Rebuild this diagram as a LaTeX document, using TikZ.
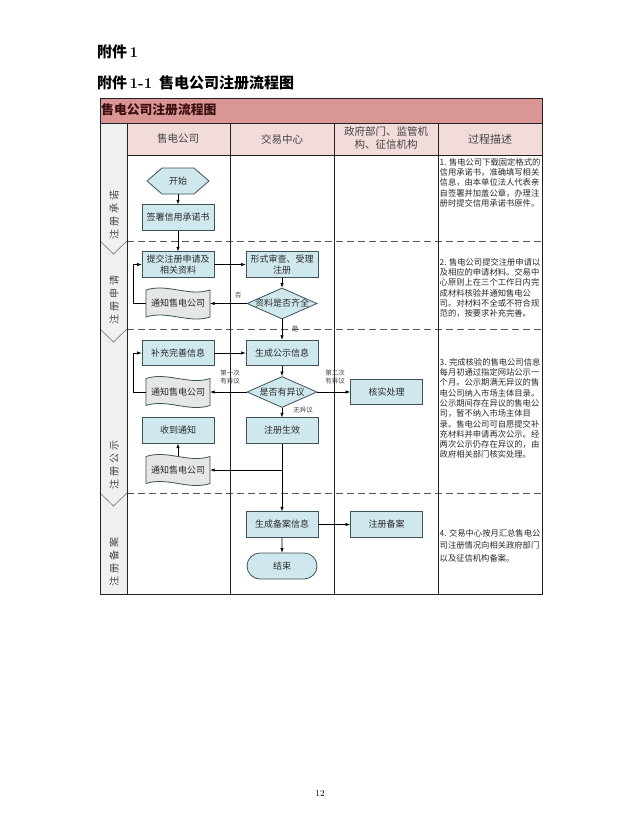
\documentclass[tikz,border=0pt]{standalone}
\usepackage{fontspec}
\newfontfamily\cjk{Noto Sans CJK SC}
\usetikzlibrary{arrows.meta,calc,shapes.geometric,shapes.misc}
\definecolor{titlefill}{HTML}{D99694}
\definecolor{headfill}{HTML}{F2DCDB}
\definecolor{phasefill}{HTML}{EEF0F2}
\definecolor{boxfill}{HTML}{CFE8EE}
\definecolor{boxborder}{HTML}{3F5257}
\definecolor{docfill}{HTML}{E6E6E6}
\definecolor{txt}{HTML}{2A2A2A}
\definecolor{txtb}{HTML}{444444}
\definecolor{titletext}{HTML}{3A0E0E}
\definecolor{linecol}{HTML}{222222}
\definecolor{dashcol}{HTML}{555555}
\definecolor{chev}{HTML}{8A8A8A}
\newcommand\docnode[4]{%
  \filldraw[fill=docfill, draw=boxborder, line width=0.8pt]
    (#2-32,#3-13.5) .. controls +(21,-7) and +(-21,7) .. (#2+32,#3-13.5)
    -- (#2+32,#3+13.5) .. controls +(-21,7) and +(21,-7) .. (#2-32,#3+13.5) -- cycle;
  \node[doctext] (#1) at (#2,#3) {#4};}
\newcommand\hexnode[4]{%
  \filldraw[fill=boxfill, draw=boxborder, line width=0.8pt]
    (#2-31,#3) -- (#2-16,#3-13) -- (#2+16,#3-13) -- (#2+31,#3)
    -- (#2+16,#3+13) -- (#2-16,#3+13) -- cycle;
  \node[doctext, minimum width=62pt, minimum height=26pt] (#1) at (#2,#3) {#4};}
\newcommand\phsp{\hspace{3pt}}
\begin{document}
\begin{tikzpicture}[x=1pt,y=-1pt,
  box/.style={rectangle, draw=boxborder, fill=boxfill, line width=0.8pt,
    minimum width=72pt, minimum height=25.5pt, inner sep=1pt, align=center,
    font=\cjk\fontsize{9}{10.5}\selectfont, text=txt},
  decision/.style={diamond, draw=boxborder, fill=boxfill, line width=0.8pt,
    minimum width=70pt, minimum height=31pt, inner sep=0pt,
    font=\cjk\fontsize{9}{11}\selectfont, text=txt},
  terminal/.style={rounded rectangle, draw=boxborder, fill=boxfill, line width=0.8pt,
    minimum width=72pt, minimum height=26pt, inner sep=1pt,
    font=\cjk\fontsize{9}{11}\selectfont, text=txt},
  doctext/.style={minimum width=64pt, minimum height=27pt, inner sep=0pt,
    font=\cjk\fontsize{9}{11}\selectfont, text=txt},
  conn/.style={draw=black, line width=0.6pt, -{Latex[length=4.5pt,width=3.4pt]}},
  lbl/.style={font=\cjk\fontsize{6.5}{7.8}\selectfont, text=txtb, align=center, inner sep=0pt},
  hdr/.style={font=\cjk\fontsize{10.5}{13.5}\selectfont, text=txtb, align=center, inner sep=0pt},
  phase/.style={rotate=90, font=\cjk\fontsize{10}{12}\selectfont, text=txtb, inner sep=0pt},
  desc/.style={anchor=north west, inner sep=0pt, align=left,
    font=\cjk\fontsize{8.3}{10.3}\selectfont, text=txt},
  sep/.style={draw=linecol, line width=0.9pt},
  dashsep/.style={draw=dashcol, line width=1pt, dash pattern=on 7pt off 4pt},
]
\useasboundingbox[fill=white] (0,0) rectangle (640,825);

% headings
\node[anchor=west, inner sep=0pt, font=\cjk\bfseries\fontsize{15}{18}\selectfont] (att) at (97,52)
  {附件\,{\rmfamily\bfseries 1}};
\node[anchor=west, inner sep=0pt, font=\cjk\bfseries\fontsize{15}{18}\selectfont] (att11) at (97,83)
  {附件\,{\rmfamily\bfseries 1-1}\hspace{7pt}售电公司注册流程图};

% backgrounds
\fill[titlefill] (100,98) rectangle (542,123);
\fill[headfill] (127,123) rectangle (542,155);
\fill[phasefill] (100,123) rectangle (127,594);
\node[anchor=west, inner sep=0pt, font=\cjk\bfseries\fontsize{12.8}{15}\selectfont, text=titletext] (ttl) at (101,110)
  {售电公司注册流程图};

% dashed phase separators
\foreach \yy in {241,329,493}{
  \draw[dashsep] (127,\yy) -- (542,\yy);
  \draw[chev, line width=0.8pt] (100,\yy) -- (113.5,\yy+13) -- (127,\yy);
}
% grid lines
\draw[sep] (100,123) -- (542,123);
\draw[sep] (127,155) -- (542,155);
\foreach \xx in {127,230,334,438}{\draw[sep] (\xx,123) -- (\xx,594);}
\draw[linecol, line width=1pt] (100,98) rectangle (542,594);

% header texts
\node[hdr] (h1) at (178,139) {售电公司};
\node[hdr] (h2) at (282,139) {交易中心};
\node[hdr] (h3) at (386,138) {政府部门、监管机\\构、征信机构};
\node[hdr, font=\cjk\fontsize{11}{13.5}\selectfont] (h4) at (490,139) {过程描述};

% phase labels
\node[phase] (p1) at (114,215) {注\phsp 册\phsp 承\phsp 诺};
\node[phase] (p2) at (114,300) {注\phsp 册\phsp 申\phsp 请};
\node[phase] (p3) at (114,465) {注\phsp 册\phsp 公\phsp 示};
\node[phase] (p4) at (114,562) {注\phsp 册\phsp 备\phsp 案};

% flow nodes
\hexnode{start}{178}{181}{开始}
\node[box] (sign) at (178,217.5) {签署信用承诺书};
\node[box] (submit) at (178,264.5) {提交注册申请及\\相关资料};
\node[box] (review) at (282,264.5) {形式审查、受理\\注册};
\node[decision] (check) at (282,303.5) {\makebox[0pt]{资料是否齐全}};
\docnode{notifyA}{178}{303.5}{通知售电公司}
\node[box] (supp) at (178,353) {补充完善信息};
\node[box] (gen) at (282,353) {生成公示信息};
\node[decision] (obj) at (282,392) {\makebox[0pt]{是否有异议}};
\docnode{notifyB}{178}{392}{通知售电公司}
\node[box] (verify) at (386.5,392) {核实处理};
\node[box] (recv) at (178,430.5) {收到通知};
\node[box] (effect) at (282,430.5) {注册生效};
\docnode{notifyC}{178}{470}{通知售电公司}
\node[box] (record) at (282,524.5) {生成备案信息};
\node[box] (filing) at (386.5,524.5) {注册备案};
\node[terminal] (end) at (282,566) {结束};

% connectors
\draw[conn] (start) -- (sign);
\draw[conn] (sign) -- (submit);
\draw[conn] (submit) -- (review);
\draw[conn] (review) -- (check);
\draw[conn] (check) -- (notifyA);
\draw[conn] (notifyA.west) -- ++(-13,0) |- (submit.west);
\draw[conn] (check) -- (gen);
\draw[conn] (supp) -- (gen);
\draw[conn] (gen) -- (obj);
\draw[conn] (obj) -- (notifyB);
\draw[conn] (notifyB.west) -- ++(-13,0) |- (supp.west);
\draw[conn] (obj) -- (verify);
\draw[conn] (obj) -- (effect);
\draw[conn] (effect.south) |- (notifyC.east);
\draw[conn] (notifyC) -- (recv);
\draw[conn] (effect) -- (record);
\draw[conn] (record) -- (filing);
\draw[conn] (record) -- (end);

% connector labels
\node[lbl] (lno) at (238,295) {否};
\node[lbl] (lyes) at (295,329) {是};
\node[lbl] (lfirst) at (230,377) {第一次\\有异议};
\node[lbl] (lsecond) at (335,377) {第二次\\有异议};
\node[lbl] (lnone) at (303,410) {无异议};

% descriptions
\node[desc] (d1) at (439.5,158) {1. 售电公司下载固定格式的\\信用承诺书，准确填写相关\\信息，由本单位法人代表亲\\自签署并加盖公章，办理注\\册时提交信用承诺书原件。};
\node[desc] (d2) at (439.5,258) {2. 售电公司提交注册申请以\\及相应的申请材料。交易中\\心原则上在三个工作日内完\\成材料核验并通知售电公\\司。对材料不全或不符合规\\范的，按要求补充完善。};
\node[desc] (d3) at (439.5,358) {3. 完成核验的售电公司信息\\每月初通过指定网站公示一\\个月。公示期满无异议的售\\电公司纳入市场主体目录。\\公示期间存在异议的售电公\\司，暂不纳入市场主体目\\录。售电公司可自愿提交补\\充材料并申请再次公示。经\\两次公示仍存在异议的，由\\政府相关部门核实处理。};
\node[desc, font=\cjk\fontsize{8.3}{12.2}\selectfont] (d4) at (439.5,529.5) {4. 交易中心按月汇总售电公\\司注册情况向相关政府部门\\以及征信机构备案。};

% page number
\node[font=\fontsize{9}{11}\selectfont, inner sep=0pt] (pg) at (320,793) {12};
\end{tikzpicture}
\end{document}
